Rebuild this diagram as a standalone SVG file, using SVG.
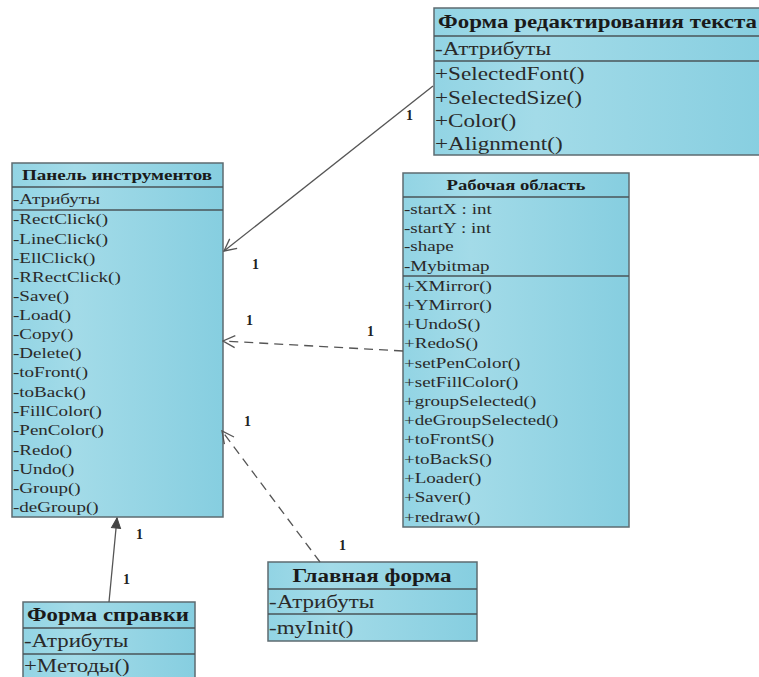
<svg xmlns="http://www.w3.org/2000/svg" width="759" height="677" viewBox="0 0 759 677">
<style>
.box{fill:url(#g);stroke:#5d6b70;stroke-width:1.5}
.sep{stroke:#4a5458;stroke-width:1.3}
.h{font-family:"Liberation Serif",serif;font-weight:bold;fill:#1a1a1a}
.t{font-family:"Liberation Serif",serif;fill:#2a2a2a}
.c{stroke:#555;stroke-width:1.3;fill:none}
.d{stroke-dasharray:9,6}
.n{font-family:"Liberation Serif",serif;font-weight:bold;font-size:14px;fill:#222}
</style>
<defs>
<linearGradient id="g" x1="0" y1="0" x2="1" y2="0">
<stop offset="0" stop-color="#92d4e4"/>
<stop offset="0.3" stop-color="#a3dbe8"/>
<stop offset="1" stop-color="#86cee0"/>
</linearGradient>
<marker id="open" markerWidth="14" markerHeight="14" refX="13" refY="7" orient="auto" markerUnits="userSpaceOnUse">
<path d="M1,1 L13,7 L1,13" fill="none" stroke="#555" stroke-width="1.3"/>
</marker>
<marker id="fill" markerWidth="12" markerHeight="12" refX="11" refY="6" orient="auto" markerUnits="userSpaceOnUse">
<path d="M1,1.5 L11,6 L1,10.5 Z" fill="#444" stroke="#444"/>
</marker>
</defs>
<rect width="759" height="677" fill="#fff"/>

<g id="text-form">
<rect class="box" x="434" y="8" width="340" height="147"/>
<line class="sep" x1="434" y1="36" x2="774" y2="36"/>
<line class="sep" x1="434" y1="61" x2="774" y2="61"/>
<text class="h" x="438" y="28" font-size="19.5" textLength="319" lengthAdjust="spacingAndGlyphs">Форма редактирования текста</text>
<g class="t" font-size="19" transform="translate(435,0) scale(1.22,1) translate(-435,0)">
<text x="435" y="55">-Аттрибуты</text>
<text x="435" y="80">+SelectedFont()</text>
<text x="435" y="104">+SelectedSize()</text>
<text x="435" y="127">+Color()</text>
<text x="435" y="150">+Alignment()</text>
</g>
</g>

<g id="toolbar">
<rect class="box" x="12" y="163" width="211" height="354"/>
<line class="sep" x1="12" y1="187" x2="223" y2="187"/>
<line class="sep" x1="12" y1="210" x2="223" y2="210"/>
<text class="h" x="117" y="180" font-size="14" text-anchor="middle" textLength="190" lengthAdjust="spacingAndGlyphs">Панель инструментов</text>
<g class="t" font-size="15" transform="translate(13,0) scale(1.27,1) translate(-13,0)">
<text x="13" y="204">-Атрибуты</text>
<text x="13" y="224">-RectClick()</text>
<text x="13" y="244">-LineClick()</text>
<text x="13" y="263">-EllClick()</text>
<text x="13" y="282">-RRectClick()</text>
<text x="13" y="301">-Save()</text>
<text x="13" y="320">-Load()</text>
<text x="13" y="339">-Copy()</text>
<text x="13" y="358">-Delete()</text>
<text x="13" y="377">-toFront()</text>
<text x="13" y="397">-toBack()</text>
<text x="13" y="416">-FillColor()</text>
<text x="13" y="435">-PenColor()</text>
<text x="13" y="455">-Redo()</text>
<text x="13" y="474">-Undo()</text>
<text x="13" y="493">-Group()</text>
<text x="13" y="512">-deGroup()</text>
</g>
</g>

<g id="workspace">
<rect class="box" x="403" y="173" width="226" height="354"/>
<line class="sep" x1="403" y1="197" x2="629" y2="197"/>
<line class="sep" x1="403" y1="276" x2="629" y2="276"/>
<text class="h" x="516" y="190" font-size="15" text-anchor="middle" textLength="139" lengthAdjust="spacingAndGlyphs">Рабочая область</text>
<g class="t" font-size="15" transform="translate(404,0) scale(1.27,1) translate(-404,0)">
<text x="404" y="214">-startX : int</text>
<text x="404" y="233">-startY : int</text>
<text x="404" y="251">-shape</text>
<text x="404" y="271">-Mybitmap</text>
<text x="404" y="291">+XMirror()</text>
<text x="404" y="310">+YMirror()</text>
<text x="404" y="329">+UndoS()</text>
<text x="404" y="348">+RedoS()</text>
<text x="404" y="368">+setPenColor()</text>
<text x="404" y="387">+setFillColor()</text>
<text x="404" y="406">+groupSelected()</text>
<text x="404" y="425">+deGroupSelected()</text>
<text x="404" y="444">+toFrontS()</text>
<text x="404" y="464">+toBackS()</text>
<text x="404" y="483">+Loader()</text>
<text x="404" y="502">+Saver()</text>
<text x="404" y="522">+redraw()</text>
</g>
</g>

<g id="main-form">
<rect class="box" x="268" y="562" width="209" height="79"/>
<line class="sep" x1="268" y1="589" x2="477" y2="589"/>
<line class="sep" x1="268" y1="614" x2="477" y2="614"/>
<text class="h" x="372" y="582" font-size="18" text-anchor="middle" textLength="159" lengthAdjust="spacingAndGlyphs">Главная форма</text>
<g class="t" font-size="18" transform="translate(269,0) scale(1.28,1) translate(-269,0)">
<text x="269" y="608">-Атрибуты</text>
<text x="269" y="634">-myInit()</text>
</g>
</g>

<g id="help-form">
<rect class="box" x="23" y="602" width="172" height="90"/>
<line class="sep" x1="23" y1="628" x2="195" y2="628"/>
<line class="sep" x1="23" y1="654" x2="195" y2="654"/>
<text class="h" x="108" y="621" font-size="18" text-anchor="middle" textLength="162" lengthAdjust="spacingAndGlyphs">Форма справки</text>
<g class="t" font-size="18" transform="translate(24,0) scale(1.27,1) translate(-24,0)">
<text x="24" y="647">-Атрибуты</text>
<text x="24" y="672">+Методы()</text>
</g>
</g>

<g id="connectors">
<line class="c" x1="433" y1="86" x2="224" y2="251" marker-end="url(#open)"/>
<line class="c d" x1="403" y1="351" x2="223" y2="341" marker-end="url(#open)"/>
<line class="c d" x1="320" y1="562" x2="222" y2="431" marker-end="url(#open)"/>
<line class="c" x1="109" y1="602" x2="117" y2="518" marker-end="url(#fill)"/>
<text class="n" x="406" y="120">1</text>
<text class="n" x="252" y="269">1</text>
<text class="n" x="246" y="325">1</text>
<text class="n" x="367" y="336">1</text>
<text class="n" x="244" y="426">1</text>
<text class="n" x="339" y="550">1</text>
<text class="n" x="136" y="539">1</text>
<text class="n" x="123" y="584">1</text>
</g>
</svg>
